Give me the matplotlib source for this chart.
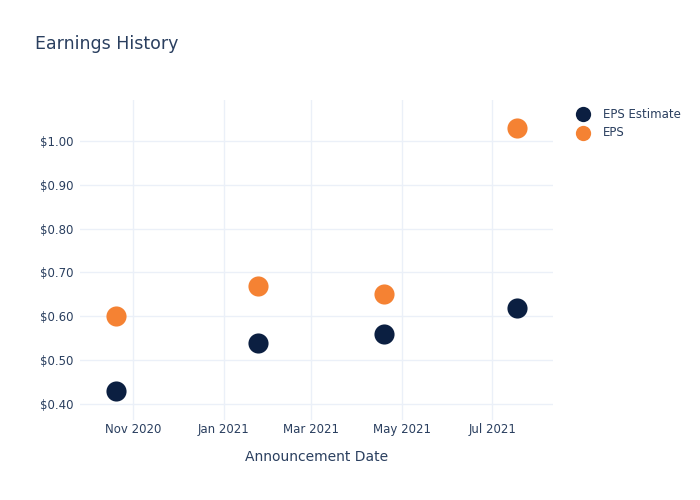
import matplotlib.pyplot as plt
import matplotlib.dates as mdates
from matplotlib.ticker import FuncFormatter
from matplotlib.lines import Line2D
import pandas as pd

# Earnings data
dates = pd.to_datetime(["2020-10-20", "2021-01-24", "2021-04-19", "2021-07-18"])
eps_estimate = [0.43, 0.54, 0.56, 0.62]
eps_actual = [0.60, 0.67, 0.65, 1.03]
series_names = ["EPS Estimate", "EPS"]

text_color = "#2a3f5f"
grid_color = "#ebf0f8"
navy = "#0b1f41"
orange = "#f58233"
W, H = 700, 500

fig = plt.figure(figsize=(7, 5), dpi=100)
ax = fig.add_axes([80 / W, 80 / H, 473 / W, 320 / H])

ax.scatter(dates, eps_estimate, s=210, color=navy, zorder=3, linewidths=0)
ax.scatter(dates, eps_actual, s=210, color=orange, zorder=3, linewidths=0)

ax.set_xlim(pd.Timestamp("2020-09-26"), pd.Timestamp("2021-08-11"))
ax.set_ylim(0.3635, 1.0935)
ax.set_yticks([0.4, 0.5, 0.6, 0.7, 0.8, 0.9, 1.0])
ax.yaxis.set_major_formatter(FuncFormatter(lambda v, p: f"${v:.2f}"))
ax.xaxis.set_major_locator(mdates.MonthLocator(bymonth=[1, 3, 5, 7, 9, 11]))
ax.xaxis.set_major_formatter(mdates.DateFormatter("%b %Y"))

for s in ax.spines.values():
    s.set_visible(False)
ax.grid(True, color=grid_color, linewidth=1)
ax.set_axisbelow(True)
ax.tick_params(length=0, labelsize=8.5, colors=text_color)
ax.tick_params(axis="x", pad=2)
ax.tick_params(axis="y", pad=5)

ax.set_xlabel("Announcement Date", fontsize=10, color=text_color, labelpad=10)
fig.text(35 / W, 1 - 44 / H, "Earnings History", fontsize=12.5,
         color=text_color, va="center", ha="left")

# legend drawn by hand to match the plotly layout
for i, (name, col) in enumerate(zip(series_names, [navy, orange])):
    y = 1 - (114 + 19 * i) / H
    fig.add_artist(Line2D([583 / W], [y], marker="o", markersize=11,
                          color=col, markeredgewidth=0, linestyle=""))
    fig.text(603 / W, y, name, fontsize=8.5, color=text_color,
             va="center", ha="left")

fig.savefig("out.png", dpi=100)
